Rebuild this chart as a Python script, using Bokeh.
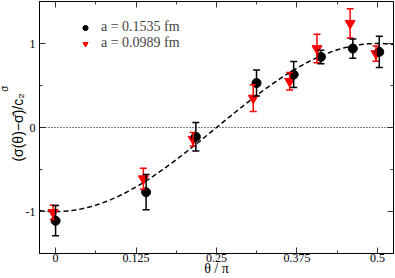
import numpy as np
from bokeh.plotting import figure
from bokeh.models import (ColumnDataSource, Whisker, TeeHead, FixedTicker, LinearAxis,
                          Legend, LegendItem, Span, Range1d, Title, CustomLabelingPolicy)
from bokeh.embed import file_html
from bokeh.resources import INLINE

# ---- data ----
x_ticks = [0, 0.125, 0.25, 0.375, 0.5]
x_tick_labels = ["0", "0.125", "0.25", "0.375", "0.5"]
x_minor = [0.0625, 0.1875, 0.3125, 0.4375]
y_ticks = [-1, 0, 1]
y_tick_labels = ["-1", "0", "1"]
y_minor = [-0.5, 0.5]

# a = 0.1535 fm (black circles)
x_black = [0.0, 0.1406, 0.2179, 0.3122, 0.3699, 0.4123, 0.4618, 0.5029]
y_black = [-1.11, -0.77, -0.11, 0.53, 0.63, 0.84, 0.94, 0.90]
e_black = [0.18, 0.21, 0.17, 0.155, 0.155, 0.08, 0.115, 0.185]

# a = 0.0989 fm (red triangles)
x_red = [-0.0037, 0.1364, 0.2137, 0.3071, 0.3637, 0.4061, 0.4576, 0.4978]
y_red = [-1.01, -0.61, -0.14, 0.35, 0.55, 0.94, 1.24, 0.88]
e_red = [0.085, 0.125, 0.08, 0.16, 0.105, 0.17, 0.175, 0.09]

label_black = "a = 0.1535 fm"
label_red = "a = 0.0989 fm"
x_title = "θ / π"
y_title = "(σ(θ)−σ̄)/c₂"
y_title_sup = "σ"

X_RANGE = (-0.025, 0.525)
Y_RANGE = (-1.5, 1.5)

# model curve -cos(2 theta)
curve_x = np.linspace(X_RANGE[0], X_RANGE[1], 200)
curve_y = -np.cos(2 * np.pi * curve_x)

SERIF = "Liberation Serif"
SANS = "Liberation Sans"

p = figure(width=395, height=278, x_range=Range1d(*X_RANGE), y_range=Range1d(*Y_RANGE),
           output_backend="svg", toolbar_location=None,
           min_border_left=0, min_border_right=2, min_border_top=0, min_border_bottom=0)
p.grid.visible = False
p.outline_line_color = "black"
p.background_fill_color = "white"
p.border_fill_color = "white"

def style_axis(ax, ticks, minor, labels=None):
    ax.ticker = FixedTicker(ticks=ticks, minor_ticks=minor)
    ax.major_tick_in = 6
    ax.major_tick_out = 0
    ax.minor_tick_in = 3
    ax.minor_tick_out = 0
    ax.axis_line_color = "black"
    ax.major_tick_line_color = "#333333"
    ax.minor_tick_line_color = "#333333"
    if labels is None:
        ax.major_label_text_font_size = "1px"
        ax.major_label_standoff = -3
        ax.major_label_policy = CustomLabelingPolicy(code="return []")
    else:
        ax.major_label_overrides = {t: l for t, l in zip(ticks, labels)}
        ax.major_label_text_font = SERIF
        ax.major_label_text_font_size = "12px"
        ax.major_label_text_color = "black"

xa = p.xaxis[0]
style_axis(xa, x_ticks, x_minor, x_tick_labels)
xa.major_label_standoff = 0
xa.axis_label = x_title
xa.axis_label_text_font = SERIF
xa.axis_label_text_font_size = "14px"
xa.axis_label_text_font_style = "normal"
xa.axis_label_text_color = "black"
xa.axis_label_standoff = -4

ya = p.yaxis[0]
style_axis(ya, y_ticks, y_minor, y_tick_labels)
ya.major_label_standoff = 4
ya.axis_label = y_title
ya.axis_label_text_font = SANS
ya.axis_label_text_font_size = "14px"
ya.axis_label_text_font_style = "normal"
ya.axis_label_text_color = "black"
ya.axis_label_standoff = -3

top = LinearAxis()
style_axis(top, x_ticks, x_minor)
p.add_layout(top, "above")
right = LinearAxis()
style_axis(right, y_ticks, y_minor)
p.add_layout(right, "right")

# superscript sigma of the y-axis title
sup = Title(text=y_title_sup, align="right", offset=84, standoff=-7,
            text_font=SANS, text_font_size="10px", text_font_style="normal",
            text_color="black")
p.add_layout(sup, "left")

p.add_layout(Span(location=0, dimension="width", line_color="black", line_dash="1 2", line_width=1))

p.line(curve_x, curve_y, line_color="black", line_dash="5 3", line_width=1.5)

src_red = ColumnDataSource(dict(x=x_red, y=y_red,
                                lo=[y - e for y, e in zip(y_red, e_red)],
                                hi=[y + e for y, e in zip(y_red, e_red)]))
src_black = ColumnDataSource(dict(x=x_black, y=y_black,
                                  lo=[y - e for y, e in zip(y_black, e_black)],
                                  hi=[y + e for y, e in zip(y_black, e_black)]))

for src, col in ((src_red, "red"), (src_black, "black")):
    w = Whisker(base="x", lower="lo", upper="hi", source=src, line_color=col, line_width=1.5,
                upper_head=TeeHead(size=7, line_color=col, line_width=1.5),
                lower_head=TeeHead(size=7, line_color=col, line_width=1.5))
    w.level = "glyph"
    p.add_layout(w)

r_red = p.scatter("x", "y", source=src_red, marker="inverted_triangle", size=10,
                  fill_color="red", line_color="red")
r_black = p.scatter("x", "y", source=src_black, marker="circle", size=9,
                    fill_color="black", line_color="black")

legend = Legend(items=[LegendItem(label=label_black, renderers=[r_black]),
                       LegendItem(label=label_red, renderers=[r_red])],
                location=(36, 202), border_line_alpha=0, background_fill_alpha=0,
                padding=0, margin=0, spacing=0, glyph_width=20, glyph_height=13,
                label_height=13, label_standoff=6, label_text_font=SERIF,
                label_text_font_size="14px")
p.add_layout(legend)

open("out.html", "w").write(file_html(p, INLINE))
